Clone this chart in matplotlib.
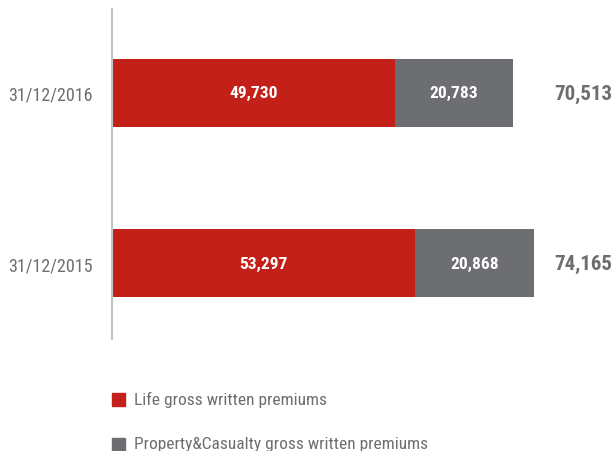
import matplotlib
matplotlib.use("Agg")
import matplotlib.pyplot as plt
from matplotlib.patches import Rectangle
from matplotlib.transforms import blended_transform_factory

categories = ["31/12/2015", "31/12/2016"]
life = [53297, 49730]
pc = [20868, 20783]
totals = [74165, 70513]
legend_labels = ["Life gross written premiums", "Property&Casualty gross written premiums"]

plt.rcParams['font.family'] = ["Roboto Condensed", 'DejaVu Sans']

RED = "#C4201A"
GRAY = "#6D6E71"
TXT = "#6D6E71"

fig = plt.figure(figsize=(6.16, 4.52), dpi=100)
ax = fig.add_axes([112/616, (452-340)/452, 504/616, 330/452])

y = list(range(len(categories)))
ax.barh(y, life, height=0.4, color=RED)
ax.barh(y, pc, left=life, height=0.4, color=GRAY)
tr = blended_transform_factory(ax.transAxes, ax.transData)
for i in y:
    ax.text(life[i]/2, i, f"{life[i]:,}", ha="center", va="center", color="white",
            fontsize=12.5, fontweight="bold")
    ax.text(life[i] + pc[i]/2, i, f"{pc[i]:,}", ha="center", va="center", color="white",
            fontsize=12.5, fontweight="bold")
    ax.text((612-112)/504, i, f"{totals[i]:,}", ha="right", va="center", color=TXT,
            fontsize=15, fontweight="bold", transform=tr)

ax.set_xlim(0, 504/(422/74165))
ax.set_ylim(-0.447, 1.494)
ax.set_yticks(y)
ax.set_yticklabels(categories, fontsize=13, color=TXT)
ax.tick_params(axis="y", length=0, pad=14)
ax.set_xticks([])
for s in ["top", "right", "bottom"]:
    ax.spines[s].set_visible(False)
ax.spines["left"].set_color("#C4C4C4")
ax.spines["left"].set_linewidth(1.5)

# legend
for j, (lab, col) in enumerate(zip(legend_labels, [RED, GRAY])):
    yc = 400 + j*45
    fig.patches.append(Rectangle((112/616, (452-yc-6.5)/452), 13/616, 13/452,
                                 transform=fig.transFigure, color=col, figure=fig))
    fig.text(134/616, (452-yc)/452, lab, ha="left", va="center", color=TXT, fontsize=12.5)

fig.savefig("out.png", dpi=100)
